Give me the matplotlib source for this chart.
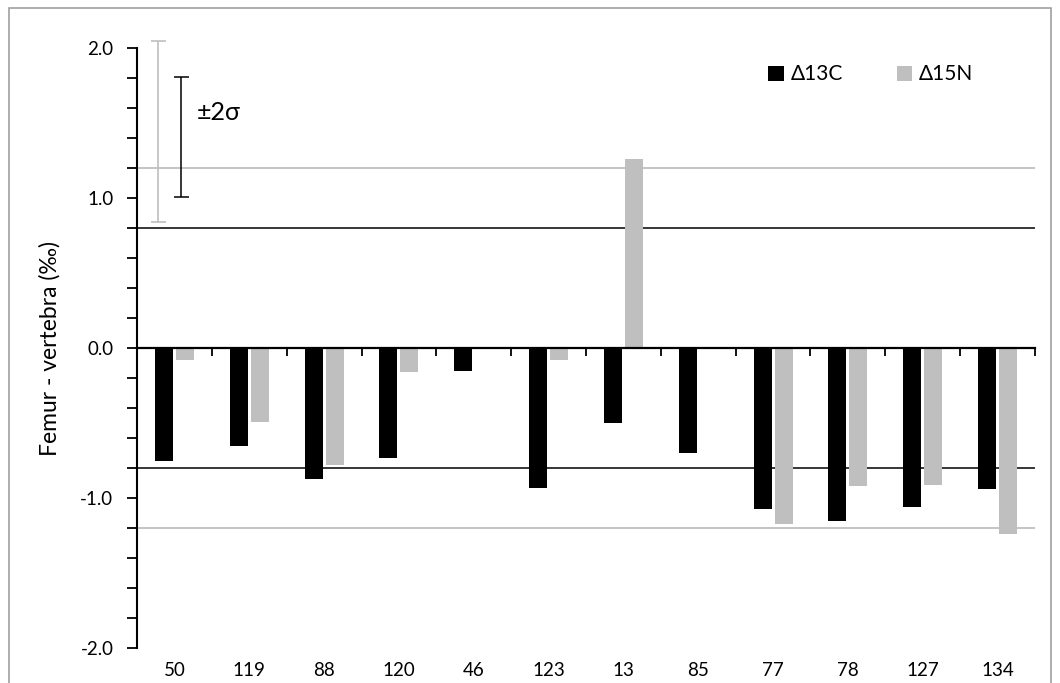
import numpy as np
import matplotlib
matplotlib.use("Agg")
import matplotlib.pyplot as plt
from matplotlib.patches import Rectangle

plt.rcParams['font.family'] = ['Lato', 'DejaVu Sans']

# sample ids along the x axis
samples = ['50', '119', '88', '120', '46', '123', '13', '85', '77', '78', '127', '134']
# femur - vertebra offsets (permil)
d13C = [-0.75, -0.65, -0.87, -0.73, -0.15, -0.93, -0.50, -0.70, -1.07, -1.15, -1.06, -0.94]
d15N = [-0.08, -0.49, -0.78, -0.16, 0.0, -0.08, 1.26, 0.0, -1.17, -0.92, -0.91, -1.24]

# reference limits drawn as horizontal lines
c_limit = 0.8
n_limit = 1.2
# +-2 sigma bars in the corner (centre, half range)
n_sigma_centre, n_sigma_half = 1.445, 0.605
c_sigma_centre, c_sigma_half = 1.41, 0.40

black = '#000000'
grey = '#bfbfbf'

fig = plt.figure(figsize=(10.6, 6.83), dpi=100)
ax = fig.add_axes([137/1060, 1-648/683, (1035-137)/1060, 600/683])

x = np.arange(len(samples))
w = 0.24
off = 0.14
ax.bar(x - off, d13C, w, color=black, label='Δ13C', zorder=3)
ax.bar(x + off, d15N, w, color=grey, label='Δ15N', zorder=3)

ax.axhline(c_limit, color=black, lw=1.1, zorder=2)
ax.axhline(-c_limit, color=black, lw=1.1, zorder=2)
ax.axhline(n_limit, color=grey, lw=1.3, zorder=1)
ax.axhline(-n_limit, color=grey, lw=1.3, zorder=1)

eb1 = ax.errorbar([-0.22], [n_sigma_centre], yerr=[n_sigma_half], fmt='none',
                  ecolor=grey, elinewidth=1.2, capsize=5.4, capthick=1.2, zorder=4)
eb2 = ax.errorbar([0.09], [c_sigma_centre], yerr=[c_sigma_half], fmt='none',
                  ecolor=black, elinewidth=1.1, capsize=5.4, capthick=1.1, zorder=4)
for eb in (eb1, eb2):
    for part in eb.lines[1] + eb.lines[2]:
        part.set_clip_on(False)
ax.text(0.30, 1.57, '±2σ', fontsize=18, va='center', ha='left')

ax.set_xlim(-0.5, len(samples) - 0.5)
ax.set_ylim(-2.0, 2.0)
ax.set_yticks([-2.0, -1.0, 0.0, 1.0, 2.0])
ax.set_yticklabels(['-2.0', '-1.0', '0.0', '1.0', '2.0'])
ax.set_yticks(np.arange(-2.0, 2.01, 0.2), minor=True)
ax.tick_params(axis='y', which='both', direction='out', length=7, width=1.3,
               labelsize=13.5, pad=10)
ax.set_ylabel('Femur - vertebra (‰)', fontsize=16.5, labelpad=14)

ax.set_xticks(x)
ax.set_xticklabels(samples)
ax.tick_params(axis='x', which='both', length=0, labelsize=13.5, pad=10)

for s in ['top', 'right', 'bottom']:
    ax.spines[s].set_visible(False)
ax.spines['left'].set_linewidth(1.5)

# zero axis with category boundary ticks
zero_ax = ax.secondary_xaxis(0.5)
zero_ax.set_zorder(5)
zero_ax.set_xticks(np.arange(0.5, len(samples), 1.0))
zero_ax.set_xticklabels([])
zero_ax.tick_params(axis='x', direction='in', length=6, width=1.3)
for sp in zero_ax.spines.values():
    sp.set_linewidth(1.6)

ax.legend(loc='upper left', bbox_to_anchor=(758/1060, 1-54/683),
          bbox_transform=fig.transFigure, ncol=2, frameon=False, fontsize=15,
          handlelength=0.75, handleheight=0.75, handletextpad=0.3,
          columnspacing=2.6, borderpad=0)

fig.patches.append(Rectangle((9/1060, -0.1), 1042/1060, 1.1 - 8/683,
                             transform=fig.transFigure, fill=False,
                             edgecolor='#a0a0a0', lw=1.2))

fig.savefig('out.png', dpi=100)
